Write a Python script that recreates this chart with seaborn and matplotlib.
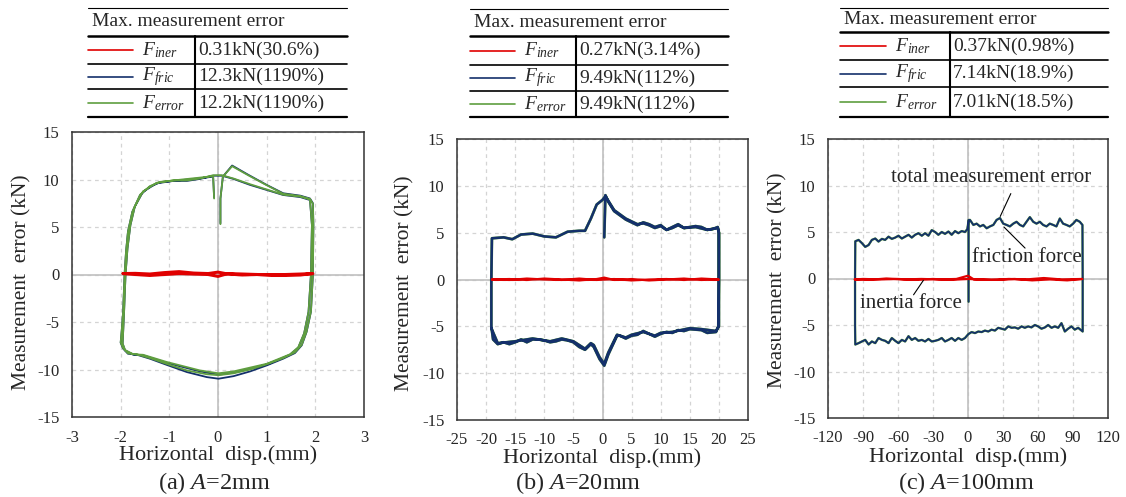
import numpy as np
import pandas as pd
import seaborn as sns
import matplotlib.pyplot as plt
from matplotlib.lines import Line2D

# ---- data: (disp mm, error kN) ----
# (a) A = 2mm
a_fric = [(0.05, 5.38), (0.05, 8.0), (0.1, 10.3), (0.29, 11.47), (0.62, 10.5), (1.0, 9.43),
          (1.34, 8.55), (1.69, 8.3), (1.89, 8.0), (1.95, 7.5), (1.96, 5.2), (1.95, 0.0),
          (1.91, -3.9), (1.82, -6.05), (1.72, -7.46), (1.58, -8.27), (1.34, -8.86), (1.0, -9.57),
          (0.66, -10.2), (0.32, -10.7), (0.01, -10.97), (-0.23, -10.8), (-0.64, -10.27),
          (-1.06, -9.5), (-1.4, -8.86), (-1.67, -8.44), (-1.85, -8.34), (-1.95, -7.8),
          (-2.0, -7.18), (-1.98, -6.05), (-1.95, -3.94), (-1.92, 0.0), (-1.89, 2.39),
          (-1.85, 4.5), (-1.76, 6.6), (-1.6, 8.37), (-1.4, 9.25), (-1.19, 9.7), (-0.92, 9.85),
          (-0.64, 9.85), (-0.37, 10.06), (-0.1, 10.4), (0.08, 10.4), (0.32, 10.06), (0.66, 9.43),
          (1.0, 8.9), (1.34, 8.37), (1.69, 8.15), (1.89, 7.84), (1.93, 5.2), (1.91, 0.0),
          (1.86, -3.94), (1.77, -6.2), (1.65, -7.7), (1.48, -8.44), (1.0, -9.5), (0.32, -10.34),
          (0.01, -10.55), (-0.37, -10.2), (-1.06, -9.29), (-1.54, -8.5), (-1.74, -8.44),
          (-1.91, -7.98), (-1.96, -7.28), (-1.93, -3.94), (-1.9, 0.0), (-1.86, 2.74),
          (-1.8, 5.2), (-1.71, 7.14), (-1.54, 8.72), (-1.26, 9.6), (-0.92, 9.85), (-0.37, 10.13),
          (-0.1, 10.3), (-0.08, 8.1)]
a_err = [(0.05, 5.3), (0.05, 8.0), (0.1, 10.3), (0.29, 11.4), (0.62, 10.45), (1.0, 9.4),
         (1.34, 8.5), (1.69, 8.25), (1.89, 7.95), (1.95, 7.45), (1.96, 5.2), (1.95, 0.0),
         (1.91, -3.9), (1.82, -6.0), (1.72, -7.4), (1.58, -8.2), (1.34, -8.8), (1.0, -9.45),
         (0.66, -10.0), (0.32, -10.4), (0.01, -10.6), (-0.23, -10.5), (-0.64, -10.1),
         (-1.06, -9.4), (-1.4, -8.8), (-1.67, -8.4), (-1.85, -8.3), (-1.95, -7.75),
         (-2.0, -7.15), (-1.98, -6.0), (-1.95, -3.94), (-1.92, 0.0), (-1.89, 2.4),
         (-1.85, 4.5), (-1.76, 6.6), (-1.6, 8.4), (-1.4, 9.3), (-1.19, 9.75), (-0.92, 9.9),
         (-0.64, 9.9), (-0.37, 10.1), (-0.1, 10.45), (0.08, 10.45), (0.32, 10.1), (0.66, 9.5),
         (1.0, 8.95), (1.34, 8.4), (1.69, 8.2), (1.89, 7.9), (1.93, 5.2), (1.91, 0.0),
         (1.86, -3.94), (1.77, -6.2), (1.65, -7.65), (1.48, -8.4), (1.0, -9.4), (0.32, -10.2),
         (0.01, -10.4), (-0.37, -10.1), (-1.06, -9.2), (-1.54, -8.45), (-1.74, -8.4),
         (-1.91, -7.95), (-1.96, -7.25), (-1.93, -3.94), (-1.9, 0.0), (-1.86, 2.74),
         (-1.8, 5.2), (-1.71, 7.14), (-1.54, 8.75), (-1.26, 9.65), (-0.92, 9.9), (-0.37, 10.2),
         (-0.1, 10.35), (-0.08, 8.0)]
a_iner = [(-1.95, 0.1), (-1.7, 0.12), (-1.4, 0.05), (-1.1, 0.2), (-0.8, 0.3), (-0.5, 0.15),
          (-0.2, 0.1), (0.0, 0.25), (0.2, 0.05), (0.5, -0.05), (0.8, 0.0), (1.1, -0.05),
          (1.4, 0.0), (1.7, 0.05), (1.95, 0.1), (1.7, -0.05), (1.4, -0.1), (1.1, -0.05),
          (0.8, 0.0), (0.5, 0.05), (0.2, 0.1), (0.0, -0.2), (-0.2, 0.0), (-0.5, 0.05),
          (-0.8, 0.1), (-1.1, 0.0), (-1.4, -0.1), (-1.7, 0.0), (-1.95, 0.1)]

# (b) A = 20mm
b_fric = [(0.3, 4.5), (0.5, 9.0), (1, 8.3), (2, 7.3), (4, 6.4), (6, 5.8), (7, 6.1), (8, 5.9),
          (9, 5.6), (10, 5.8), (11, 5.3), (12, 5.6), (13, 5.9), (14, 5.5), (15, 5.6), (16, 5.7),
          (17, 5.6), (18, 5.3), (19, 5.4), (19.8, 5.6), (20, 5.0), (20, 0), (19.9, -5.0),
          (19.5, -5.6), (18, -5.7), (17, -5.4), (15, -5.3), (14, -5.5), (13, -5.4), (12, -5.7),
          (11, -5.6), (10, -5.8), (9, -6.1), (8, -5.8), (7, -5.5), (6, -5.9), (5, -6.0),
          (4, -6.3), (3, -6.0), (2.5, -6.0), (1, -8.0), (0.3, -9.2), (-0.5, -8.5), (-1.5, -7.2),
          (-2, -6.9), (-3, -7.5), (-4, -7.2), (-5, -6.7), (-6, -6.5), (-7, -6.4), (-8, -6.6),
          (-9, -6.7), (-10, -6.5), (-11, -6.4), (-12, -6.4), (-13, -6.7), (-14, -6.4),
          (-15, -6.7), (-16, -6.9), (-17, -6.7), (-18, -6.9), (-18.8, -6.4), (-19.1, -5.0),
          (-19.1, 0), (-19, 4.4), (-17, 4.5), (-15.5, 4.3), (-14, 4.8), (-12, 4.9), (-10, 4.6),
          (-8, 4.5), (-6, 5.1), (-4, 5.2), (-3, 5.2), (-2, 6.5), (-1, 8.0), (0, 8.5), (0.5, 8.9),
          (1, 8.4), (2, 7.4), (4, 6.5), (6, 5.9), (7, 6.0), (8, 5.8), (9, 5.5), (10, 5.7),
          (11, 5.3), (12, 5.5), (13, 5.8), (14, 5.5), (16, 5.6), (18, 5.3), (19.8, 5.5),
          (20, 5.0), (20, -5.0), (19.5, -5.5), (17, -5.3), (15, -5.2), (12, -5.6), (10, -5.7),
          (9, -6.0), (7, -5.6), (5, -5.9), (4, -6.2), (2.5, -5.9), (1, -7.8), (0.3, -9.0),
          (-0.5, -8.3), (-1.5, -7.0), (-2, -6.8), (-3, -7.4), (-5, -6.6), (-7, -6.3),
          (-9, -6.6), (-12, -6.3), (-15, -6.6), (-18, -6.8), (-19.1, -5.2)]
b_iner = [(-19, 0.0), (-16, 0.05), (-13, -0.05), (-10, 0.1), (-7, 0.0), (-4, -0.1), (-1, 0.05),
          (0.3, 0.2), (2, -0.05), (5, 0.05), (8, -0.1), (11, 0.0), (14, 0.1), (17, -0.05),
          (20, 0.0), (17, 0.1), (14, -0.05), (11, 0.05), (8, 0.0), (5, -0.1), (2, 0.05),
          (-1, -0.05), (-4, 0.1), (-7, -0.05), (-10, 0.0), (-13, 0.1), (-16, -0.05), (-19, 0.0)]

# (c) A = 100mm
c_fric = [(0.5, -2.5), (0.5, 6.3), (1.7, 6.3), (4.6, 5.76), (7.4, 5.9), (10.3, 5.6), (13.1, 5.76),
          (16.0, 5.4), (18.8, 5.6), (21.7, 5.76), (24.5, 6.3), (27.4, 6.5), (30.2, 5.9),
          (33.1, 5.76), (35.9, 5.6), (38.8, 5.9), (41.6, 6.1), (44.5, 5.76), (47.3, 5.6),
          (50.2, 6.1), (53.0, 6.6), (55.9, 6.1), (58.7, 5.9), (61.6, 6.1), (64.4, 5.76),
          (67.3, 5.6), (70.1, 5.9), (73.0, 5.76), (75.8, 5.6), (78.7, 6.45), (81.5, 5.9),
          (84.4, 5.76), (87.2, 5.6), (90.1, 5.9), (92.9, 6.3), (95.8, 6.1), (98.1, 5.76),
          (98.3, 0.0), (98.3, -5.7), (94.4, -5.3), (91.5, -5.5), (88.7, -5.15), (85.8, -5.4),
          (83.0, -5.7), (80.1, -4.8), (77.3, -5.3), (74.4, -5.15), (71.6, -5.3), (68.7, -5.0),
          (65.9, -5.26), (63.0, -5.4), (60.1, -5.15), (57.3, -5.0), (54.4, -5.26), (51.6, -5.15),
          (48.7, -5.3), (45.9, -5.15), (43.0, -5.4), (40.2, -5.26), (37.3, -5.3), (34.5, -5.15),
          (31.6, -5.5), (28.8, -5.4), (25.9, -5.3), (23.1, -5.6), (20.2, -5.5), (17.4, -5.7),
          (14.5, -5.6), (11.7, -5.76), (8.8, -5.7), (6.0, -5.87), (3.1, -5.76), (0.3, -5.98),
          (-2.6, -6.4), (-5.4, -6.6), (-8.3, -6.4), (-11.1, -6.7), (-14.0, -6.4), (-16.8, -6.6),
          (-19.7, -6.77), (-22.5, -6.4), (-25.4, -6.6), (-28.2, -6.7), (-31.1, -6.77),
          (-33.9, -6.5), (-36.8, -6.77), (-39.6, -6.6), (-42.5, -6.7), (-45.3, -6.4),
          (-48.2, -6.6), (-51.0, -6.2), (-53.9, -6.77), (-56.7, -6.6), (-59.6, -6.95),
          (-62.4, -6.7), (-65.3, -6.4), (-68.1, -6.95), (-71.0, -6.7), (-73.8, -6.6),
          (-76.7, -6.4), (-79.5, -6.95), (-82.4, -6.77), (-85.2, -7.1), (-88.1, -6.6),
          (-90.9, -6.77), (-93.8, -6.95), (-96.6, -7.1), (-96.8, -5.0), (-96.8, 0.0),
          (-96.6, 4.0), (-93.8, 4.15), (-90.9, 3.8), (-88.1, 3.4), (-85.2, 3.6), (-82.4, 4.15),
          (-79.5, 4.3), (-76.7, 3.97), (-73.8, 4.26), (-71.0, 4.15), (-68.1, 4.5), (-65.3, 4.26),
          (-62.4, 4.4), (-59.6, 4.6), (-56.7, 4.3), (-53.9, 4.5), (-51.0, 4.7), (-48.2, 4.4),
          (-45.3, 4.7), (-42.5, 4.87), (-39.6, 4.6), (-36.8, 4.87), (-33.9, 4.6), (-31.1, 5.2),
          (-28.2, 5.0), (-25.4, 4.7), (-22.5, 5.0), (-19.7, 4.8), (-16.8, 5.05), (-14.0, 4.7),
          (-11.1, 5.1), (-8.3, 4.87), (-5.4, 5.1), (-2.6, 5.0), (-0.6, 5.3), (0.5, 6.2)]
c_iner = [(-97, -0.1), (-85, -0.15), (-70, 0.0), (-55, -0.1), (-40, -0.05), (-25, -0.1),
          (-10, -0.05), (0, 0.3), (5, -0.1), (20, -0.15), (35, -0.05), (50, -0.1), (65, 0.05),
          (80, -0.1), (98, -0.05), (85, -0.2), (70, -0.1), (55, -0.2), (40, -0.05), (25, -0.15),
          (10, -0.1), (0, -0.05), (-15, -0.15), (-30, -0.05), (-45, -0.15), (-60, -0.05),
          (-75, -0.1), (-90, -0.05), (-97, -0.1)]

x_ticks = [[-3, -2, -1, 0, 1, 2, 3],
           [-25, -20, -15, -10, -5, 0, 5, 10, 15, 20, 25],
           [-120, -90, -60, -30, 0, 30, 60, 90, 120]]
y_ticks = [-15, -10, -5, 0, 5, 10, 15]
captions = ['(a) $A$=2mm', '(b) $A$=20mm', '(c) $A$=100mm']
table_vals = [['0.31kN(30.6%)', '12.3kN(1190%)', '12.2kN(1190%)'],
              ['0.27kN(3.14%)', '9.49kN(112%)', '9.49kN(112%)'],
              ['0.37kN(0.98%)', '7.14kN(18.9%)', '7.01kN(18.5%)']]
series_names = ['$F_{iner}$', '$F_{fric}$', '$F_{error}$']

RED, BLUE, GREEN = '#e00000', '#14306b', '#5f9e3f'

W, H = 1126, 497
def fx(x):
    return x / W
def fy(y):
    return 1 - y / H

sns.set_style('white')
plt.rcParams['font.family'] = ['Liberation Serif', 'DejaVu Serif']
plt.rcParams['mathtext.fontset'] = 'custom'
plt.rcParams['mathtext.rm'] = 'Liberation Serif'
plt.rcParams['mathtext.it'] = 'Liberation Serif:italic'
plt.rcParams['axes.unicode_minus'] = False

fig = plt.figure(figsize=(11.26, 4.97), dpi=100)

# axes boxes in pixels: left, right, top, bottom
boxes = [(72, 364, 132, 417), (457, 748, 139, 420), (828, 1108, 139, 418)]
ylab_pos = [(22, 282), (405, 283), (778, 280)]
xlab_pos = [(218, 455), (602, 458), (968, 457)]
cap_pos = [(214, 483), (578, 483), (967, 483)]

# draw order and width per panel
panel_series = [
    [(a_fric, BLUE, 1.3), (a_err, GREEN, 1.3), (a_iner, RED, 2.2)],
    [(b_fric, GREEN, 2.0), (b_fric, BLUE, 1.8), (b_iner, RED, 1.6)],
    [(c_fric, GREEN, 1.7), (c_fric, BLUE, 1.3), (c_iner, RED, 1.6)],
]

axes = []
for i, (l, r, t, b) in enumerate(boxes):
    ax = fig.add_axes([fx(l), fy(b), (r - l) / W, (b - t) / H])
    ax.grid(True, ls=(0, (3, 3)), color='#d4d4d4', lw=0.9)
    ax.axhline(0, color='#c0c0c0', lw=1.2, zorder=1)
    ax.axvline(0, color='#c0c0c0', lw=1.2, zorder=1)
    for pts, col, lw in panel_series[i]:
        df = pd.DataFrame(pts, columns=['x', 'y'])
        sns.lineplot(data=df, x='x', y='y', sort=False, estimator=None,
                     color=col, lw=lw, ax=ax, zorder=3)
    ax.set_xlim(x_ticks[i][0], x_ticks[i][-1])
    ax.set_ylim(-15, 15)
    ax.set_xticks(x_ticks[i])
    ax.set_yticks(y_ticks)
    ax.set_xlabel('')
    ax.set_ylabel('')
    ax.tick_params(length=0, pad=9, labelsize=12)
    for s in ax.spines.values():
        s.set_color('#333333')
        s.set_linewidth(1.1)
    fig.text(fx(ylab_pos[i][0]), fy(ylab_pos[i][1]), 'Measurement  error (kN)',
             rotation=90, ha='center', va='center', fontsize=15.5)
    fig.text(fx(xlab_pos[i][0]), fy(xlab_pos[i][1]), 'Horizontal  disp.(mm)',
             ha='center', va='center', fontsize=16)
    fig.text(fx(cap_pos[i][0]), fy(cap_pos[i][1]), captions[i],
             ha='center', va='center', fontsize=17.5)
    axes.append(ax)

# annotations in (c)
axc = axes[2]
axc.text(19.7, 10.9, 'total measurement error', ha='center', va='center', fontsize=15)
axc.annotate('', xy=(26.6, 6.4), xytext=(37.7, 9.4),
             arrowprops=dict(arrowstyle='-', color='black', lw=0.8))
axc.text(50.6, 2.3, 'friction force', ha='center', va='center', fontsize=15)
axc.annotate('', xy=(50.6, 3.06), xytext=(29.1, 5.75),
             arrowprops=dict(arrowstyle='-', color='black', lw=0.8))
axc.text(-48.9, -2.7, 'inertia force', ha='center', va='center', fontsize=15)
axc.annotate('', xy=(-36.9, 0.05), xytext=(-48.0, -2.0),
             arrowprops=dict(arrowstyle='-', color='black', lw=0.8))

# "Max. measurement error" tables above each panel
tables = [(88, 347, 195, 133, [8, 36, 64, 89, 117]),
          (470, 728, 576, 515, [9, 36, 65, 91, 117]),
          (840, 1108, 950, 886, [8, 32, 60, 87, 117])]
line_cols = [RED, BLUE, GREEN]
for k, (x0, x1, xd, xl, ys) in enumerate(tables):
    for y, w in zip(ys, [0.8, 1.8, 1.2, 1.2, 1.6]):
        fig.add_artist(Line2D([fx(x0), fx(x1)], [fy(y), fy(y)], color='black', lw=w))
    fig.add_artist(Line2D([fx(xd), fx(xd)], [fy(ys[1]), fy(ys[4])], color='black', lw=1.5))
    fig.text(fx(x0 + 4), fy((ys[0] + ys[1]) / 2), 'Max. measurement error',
             ha='left', va='center', fontsize=14)
    for j in range(3):
        yc = (ys[j + 1] + ys[j + 2]) / 2
        fig.add_artist(Line2D([fx(x0), fx(xl)], [fy(yc), fy(yc)], color=line_cols[j], lw=1.2))
        fig.text(fx(xl + 9), fy(yc), series_names[j], ha='left', va='center', fontsize=14)
        fig.text(fx(xd + 3), fy(yc), table_vals[k][j], ha='left', va='center', fontsize=14)

fig.savefig('out.png', dpi=100)
